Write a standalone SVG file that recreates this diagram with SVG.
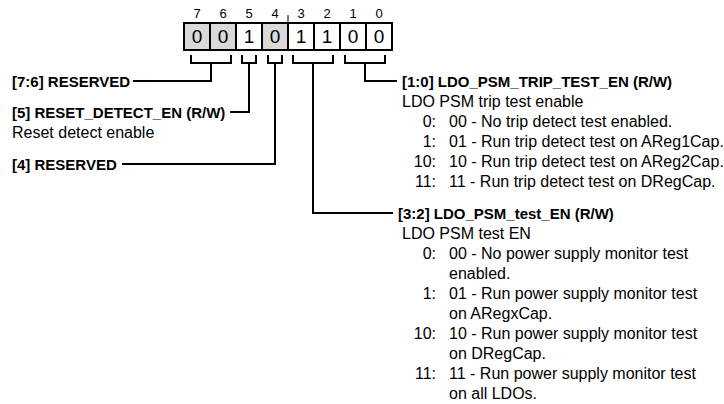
<svg xmlns="http://www.w3.org/2000/svg" width="724" height="404" viewBox="0 0 724 404">
<style>
text{font-family:"Liberation Sans",Arial,sans-serif;fill:#000}
.b{font-weight:bold;font-size:15px}
.r{font-size:16px}
.idx{font-size:13px;text-anchor:middle}
.val{font-size:19px;text-anchor:middle}
.n{font-size:16px;text-anchor:end}
.cell{stroke:#000;stroke-width:2}
.g{fill:#d9d9d9}
.w{fill:#fff}
.c{fill:none;stroke:#000;stroke-width:2}
</style>
<rect width="724" height="404" fill="#fff"/>
<g id="register">
<text class="idx" x="197" y="18">7</text>
<text class="idx" x="223" y="18">6</text>
<text class="idx" x="249" y="18">5</text>
<text class="idx" x="275" y="18">4</text>
<text class="idx" x="301" y="18">3</text>
<text class="idx" x="327" y="18">2</text>
<text class="idx" x="353" y="18">1</text>
<text class="idx" x="379" y="18">0</text>
<line x1="288" y1="15" x2="288" y2="23" stroke="#000" stroke-width="1"/>
<rect class="cell g" x="184" y="23" width="26" height="27"/>
<rect class="cell g" x="210" y="23" width="26" height="27"/>
<rect class="cell w" x="236" y="23" width="26" height="27"/>
<rect class="cell g" x="262" y="23" width="26" height="27"/>
<rect class="cell w" x="288" y="23" width="26" height="27"/>
<rect class="cell w" x="314" y="23" width="26" height="27"/>
<rect class="cell w" x="340" y="23" width="26" height="27"/>
<rect class="cell w" x="366" y="23" width="26" height="27"/>
<text class="val" x="197" y="43">0</text>
<text class="val" x="223" y="43">0</text>
<text class="val" x="249" y="43">1</text>
<text class="val" x="275" y="43">0</text>
<text class="val" x="301" y="43">1</text>
<text class="val" x="327" y="43">1</text>
<text class="val" x="353" y="43">0</text>
<text class="val" x="379" y="43">0</text>
</g>
<g id="connectors">
<path class="c" d="M191,55 V63 H231 V55 M211,63 V81 H133"/>
<path class="c" d="M242,55 V63 H256 V55 M249,63 V112 H230"/>
<path class="c" d="M268,55 V63 H282 V55 M275,63 V164 H122"/>
<path class="c" d="M293,55 V63 H333 V55 M313,63 V213 H393"/>
<path class="c" d="M345,55 V63 H385 V55 M365,63 V81 H397"/>
</g>
<g id="field-7-6">
<text class="b" x="12" y="87">[7:6] RESERVED</text>
</g>
<g id="field-5">
<text class="b" x="12" y="118">[5] RESET_DETECT_EN (R/W)</text>
<text class="r" x="12" y="138">Reset detect enable</text>
</g>
<g id="field-4">
<text class="b" x="12" y="170">[4] RESERVED</text>
</g>
<g id="field-1-0">
<text class="b" x="402" y="87">[1:0] LDO_PSM_TRIP_TEST_EN (R/W)</text>
<text class="r" x="402" y="107">LDO PSM trip test enable</text>
<text class="n" x="436" y="127">0:</text><text class="r" x="449" y="127">00 - No trip detect test enabled.</text>
<text class="n" x="436" y="147">1:</text><text class="r" x="449" y="147">01 - Run trip detect test on AReg1Cap.</text>
<text class="n" x="436" y="167">10:</text><text class="r" x="449" y="167">10 - Run trip detect test on AReg2Cap.</text>
<text class="n" x="436" y="187">11:</text><text class="r" x="449" y="187">11 - Run trip detect test on DRegCap.</text>
</g>
<g id="field-3-2">
<text class="b" x="398" y="219">[3:2] LDO_PSM_test_EN (R/W)</text>
<text class="r" x="402" y="239">LDO PSM test EN</text>
<text class="n" x="436" y="259">0:</text><text class="r" x="449" y="259">00 - No power supply monitor test</text>
<text class="r" x="449" y="279">enabled.</text>
<text class="n" x="436" y="299">1:</text><text class="r" x="449" y="299">01 - Run power supply monitor test</text>
<text class="r" x="449" y="319">on ARegxCap.</text>
<text class="n" x="436" y="339">10:</text><text class="r" x="449" y="339">10 - Run power supply monitor test</text>
<text class="r" x="449" y="359">on DRegCap.</text>
<text class="n" x="436" y="379">11:</text><text class="r" x="449" y="379">11 - Run power supply monitor test</text>
<text class="r" x="449" y="399">on all LDOs.</text>
</g>
</svg>
